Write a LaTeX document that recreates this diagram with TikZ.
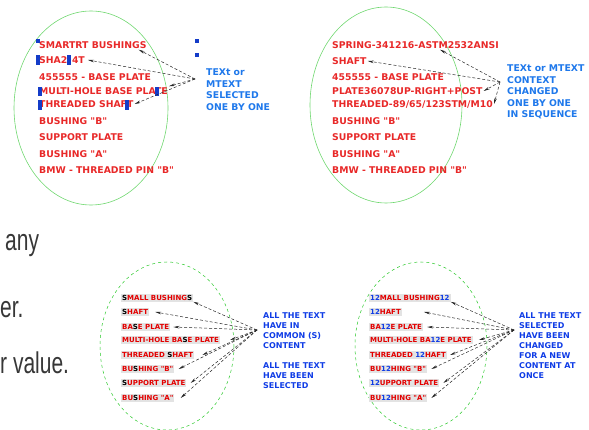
\documentclass[tikz,border=0pt]{standalone}
\usepackage{fontspec}
\usetikzlibrary{arrows.meta}

\newfontfamily\cadfont{DejaVu Sans}
\newfontfamily\pagefont[FakeStretch=0.7]{Liberation Sans}

\definecolor{cadred}{RGB}{232,40,40}
\definecolor{cadredb}{RGB}{228,0,0}
\definecolor{cadblue}{RGB}{30,120,235}
\definecolor{cadblueb}{RGB}{15,60,230}
\definecolor{gripblue}{RGB}{20,60,200}
\definecolor{ringgreen}{RGB}{110,215,110}
\definecolor{ringgreenb}{RGB}{40,200,40}
\definecolor{pagegray}{RGB}{55,55,55}

\tikzset{
  redtxt/.style={anchor=west, inner sep=1pt, text=cadred,
    font=\cadfont\bfseries\fontsize{9.3}{10}\selectfont},
  redtxtb/.style={anchor=west, inner sep=1pt, fill=black!11, text=cadredb,
    font=\cadfont\bfseries\fontsize{7}{8}\selectfont},
  bluetxt/.style={anchor=north west, inner sep=0pt, align=left, text=cadblue,
    font=\cadfont\bfseries\fontsize{9.3}{11.6}\selectfont},
  bluetxtb/.style={anchor=north west, inner sep=0pt, align=left, text=cadblueb,
    font=\cadfont\bfseries\fontsize{8}{10}\selectfont},
  leader/.style={densely dashed, line width=0.5pt, black!85,
    -{Stealth[length=6pt,width=2.6pt]}},
  grip/.style={fill=gripblue},
  pagetxt/.style={anchor=base west, inner sep=0pt, text=pagegray,
    font=\pagefont\fontsize{30}{30}\selectfont}
}

\begin{document}
\begin{tikzpicture}[x=1pt,y=-1pt]

    \useasboundingbox (0,0) rectangle (589,430);

    % Text of the page around the figures
    \node[pagetxt] (pg1) at (5,251) {any};
    \node[pagetxt] (pg2) at (0,318) {er.};
    \node[pagetxt] (pg3) at (0,373) {r value.};

    % Top left: texts picked one by one
    \draw[ringgreen, line width=0.6pt] (91,108) ellipse (77 and 97);
    \foreach \y/\txt [count=\i] in {45/SMARTRT BUSHINGS, 60/SHA2\enspace 4T,
        77/455555 - BASE PLATE, 91/MULTI-HOLE BASE PLATE, 104/THREADED SHAFT,
        121/BUSHING "B", 137/SUPPORT PLATE, 154/BUSHING "A",
        170/BMW - THREADED PIN "B"} {
        \node[redtxt] (tl\i) at (38,\y) {\txt};
    }

    % Grips on the selected texts
    \fill[grip] (36,39) rectangle (40,43);
    \fill[grip] (36,55) rectangle (40,65);
    \fill[grip] (67,55) rectangle (71,65);
    \fill[grip] (38,87) rectangle (42,96);
    \fill[grip] (155,87) rectangle (159,96);
    \fill[grip] (38,100) rectangle (42,110);
    \fill[grip] (125,100) rectangle (129,110);
    \fill[grip] (195,39) rectangle (199,43);
    \fill[grip] (195,53) rectangle (199,57);

    \coordinate (hubtl) at (195,79);
    \node[bluetxt] (lbltl) at (206,68.5)
        {TEXt or\\MTEXT\\SELECTED\\ONE BY ONE};
    \draw[leader] (hubtl) -- ([xshift=-9pt]tl1.south east);
    \draw[leader] (hubtl) -- ([xshift=2pt]tl2.east);
    \draw[leader] (hubtl) -- (tl4.north east);
    \draw[leader] (hubtl) -- (tl5.east);

    % Top right: contents changed one by one
    \draw[ringgreen, line width=0.6pt] (386,105) ellipse (76 and 98);
    \foreach \y/\txt [count=\i] in {45/SPRING-341216-ASTM2532ANSI, 61/SHAFT,
        77/455555 - BASE PLATE, 91/PLATE36078UP-RIGHT+POST,
        104/{THREADED-89/65/123STM/M10}, 121/BUSHING "B", 137/SUPPORT PLATE,
        154/BUSHING "A", 170/BMW - THREADED PIN "B"} {
        \node[redtxt] (tr\i) at (331,\y) {\txt};
    }

    \coordinate (hubtr) at (500,82);
    \node[bluetxt] (lbltr) at (507,64.5)
        {TEXt or MTEXT\\CONTEXT\\CHANGED\\ONE BY ONE\\IN SEQUENCE};
    \draw[leader] (hubtr) -- ([xshift=-60pt]tr1.south east);
    \draw[leader] (hubtr) -- (tr2.east);
    \draw[leader] (hubtr) -- (tr4.east);
    \draw[leader] (hubtr) -- (tr5.east);

    % Bottom left: all texts with S in common
    \draw[ringgreenb, dashed, line width=0.5pt] (167,346) ellipse (67 and 84);
    \foreach \y/\txt [count=\i] in {
        298/{\color{black}S}MALL BUSHING{\color{black}S},
        312/{\color{black}S}HAFT,
        327/BA{\color{black}S}E PLATE,
        340/MULTI-HOLE BA{\color{black}S}E PLATE,
        355/THREADED {\color{black}S}HAFT,
        369/BU{\color{black}S}HING "B",
        383/{\color{black}S}UPPORT PLATE,
        398/BU{\color{black}S}HING "A"} {
        \node[redtxtb] (bl\i) at (121,\y) {\txt};
    }

    \coordinate (hubbl) at (257,330);
    \node[bluetxtb] (lblbl) at (263,312)
        {ALL THE TEXT\\HAVE IN\\COMMON (S)\\CONTENT\\[10pt]ALL THE TEXT\\HAVE BEEN\\SELECTED};
    \foreach \n/\dx in {1/0, 2/6, 3/3, 4/10, 5/8, 6/4, 7/4, 8/6} {
        \ifnum\n=1
            \draw[leader] (hubbl) -- (bl1.south east);
        \else
            \draw[leader] (hubbl) -- ([xshift=\dx pt]bl\n.east);
        \fi
    }

    % Bottom right: all texts changed at once
    \draw[ringgreenb, dashed, line width=0.5pt] (421,346) ellipse (66 and 84);
    \foreach \y/\txt [count=\i] in {
        298/{\color{cadblueb}12}MALL BUSHING{\color{cadblueb}12},
        312/{\color{cadblueb}12}HAFT,
        327/BA{\color{cadblueb}12}E PLATE,
        340/MULTI-HOLE BA{\color{cadblueb}12}E PLATE,
        355/THREADED {\color{cadblueb}12}HAFT,
        369/BU{\color{cadblueb}12}HING "B",
        383/{\color{cadblueb}12}UPPORT PLATE,
        398/BU{\color{cadblueb}12}HING "A"} {
        \node[redtxtb] (br\i) at (369,\y) {\txt};
    }

    \coordinate (hubbr) at (514,330);
    \node[bluetxtb] (lblbr) at (519,312)
        {ALL THE TEXT\\SELECTED\\HAVE BEEN\\CHANGED\\FOR A NEW\\CONTENT AT\\ONCE};
    \foreach \n/\dx in {1/0, 2/22, 3/4, 4/6, 5/3, 6/4, 7/4, 8/4} {
        \ifnum\n=1
            \draw[leader] (hubbr) -- (br1.south east);
        \else
            \draw[leader] (hubbr) -- ([xshift=\dx pt]br\n.east);
        \fi
    }

\end{tikzpicture}
\end{document}
